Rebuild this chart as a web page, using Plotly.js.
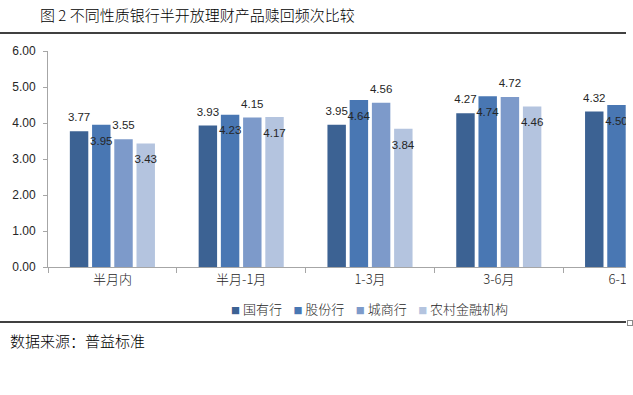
<!DOCTYPE html>
<html><head><meta charset="utf-8">
<script src="https://cdn.plot.ly/plotly-3.0.1.min.js"></script>
<style>
html,body{margin:0;padding:0;background:#fff;overflow:hidden;}
#wrap{width:626px;height:395px;overflow:hidden;position:absolute;left:0;top:0;}
#chart{width:760px;height:395px;}
#handle{position:absolute;left:627px;top:320px;width:4px;height:4px;border:1px solid #8a8a8a;background:#fff;}
</style></head><body>
<div id="wrap"><div id="chart"></div></div>
<div id="handle"></div>
<script>
const categories = ['半月内', '半月-1月', '1-3月', '3-6月', '6-12月'];
const seriesNames = ['国有行', '股份行', '城商行', '农村金融机构'];
const stateOwned = [3.77, 3.93, 3.95, 4.27, 4.32];
const jointStock = [3.95, 4.23, 4.64, 4.74, 4.50];
const cityCommercial = [3.55, 4.15, 4.56, 4.72, null];
const ruralFinancial = [3.43, 4.17, 3.84, 4.46, null];
const yTickVals = [0, 1, 2, 3, 4, 5, 6];
const yTickText = ['0.00', '1.00', '2.00', '3.00', '4.00', '5.00', '6.00'];
const titleText = '图 2 不同性质银行半开放理财产品赎回频次比较';
const sourceText = '数据来源：普益标准';

const seriesValues = [stateOwned, jointStock, cityCommercial, ruralFinancial];
const colors = ['#3C6293', '#4977B3', '#7D9ACA', '#B4C4DF'];
const labelOutside = [true, false, true, false];
const labelColor = '#262626';
const numFont = 'Liberation Sans, Arial, Noto Sans CJK SC, sans-serif';
const cjkFont = 'Noto Sans CJK SC, sans-serif';
const labelSize = 11.5;

// value label sits a little away from the bar end, as in the source chart
const outsideTemplate = '<span style="font-size:' + labelSize + 'px">%{y:.2f}</span><br>&nbsp;';
const insideTemplate = '&nbsp;<br><span style="font-size:' + labelSize + 'px">%{y:.2f}</span>';

const traces = seriesValues.map((vals, i) => {
  const out = labelOutside[i];
  const padSize = out ? 4.5 : 7.5;
  const f = {family: numFont, size: padSize, color: labelColor};
  return {
    type: 'bar',
    name: seriesNames[i],
    x: categories,
    y: vals,
    marker: {color: colors[i]},
    texttemplate: out ? outsideTemplate : insideTemplate,
    textposition: out ? 'outside' : 'inside',
    insidetextanchor: 'end',
    textangle: 0,
    constraintext: 'none',
    textfont: f, insidetextfont: f, outsidetextfont: f,
    hoverinfo: 'skip',
    showlegend: false
  };
});

const legendText = seriesNames.map((n, i) =>
  '<span style="color:' + colors[i] + ';font-size:9px">■</span>&nbsp;' + n
).join('&nbsp;&nbsp;&nbsp;&nbsp;');

const layout = {
  width: 760, height: 395,
  margin: {l: 48, r: 68, t: 51, b: 128},
  paper_bgcolor: '#ffffff', plot_bgcolor: '#ffffff',
  barmode: 'group', bargap: 0.31, bargroupgap: 0.17,
  showlegend: false,
  font: {family: numFont, color: labelColor},
  title: {
    text: titleText, xref: 'container', x: 40 / 760, xanchor: 'left',
    yref: 'container', y: 1 - 16 / 395, yanchor: 'middle',
    font: {family: cjkFont, size: 15, color: '#000000', weight: 300}
  },
  xaxis: {
    type: 'category', range: [-0.5, 4.5],
    showline: true, linecolor: '#A6A6A6', linewidth: 1,
    ticks: 'outside', tickson: 'boundaries', ticklen: 5, tickcolor: '#A6A6A6',
    tickfont: {family: cjkFont, size: 13, color: labelColor, weight: 300},
    showgrid: false, zeroline: false, fixedrange: true
  },
  yaxis: {
    range: [0, 6], tickmode: 'array', tickvals: yTickVals, ticktext: yTickText,
    showline: true, linecolor: '#A6A6A6', linewidth: 1,
    ticks: 'outside', ticklen: 4, tickcolor: '#A6A6A6',
    ticklabelstandoff: 5,
    tickfont: {family: numFont, size: 12, color: labelColor},
    showgrid: false, zeroline: false, fixedrange: true
  },
  shapes: [
    {type: 'line', xref: 'paper', yref: 'paper', x0: -0.08, x1: 1.2, y0: (267 - 33) / 216, y1: (267 - 33) / 216,
     line: {color: '#000000', width: 1.3}},
    {type: 'line', xref: 'paper', yref: 'paper', x0: -0.08, x1: 1.2, y0: (267 - 322) / 216, y1: (267 - 322) / 216,
     line: {color: '#000000', width: 1.3}}
  ],
  annotations: [
    {text: legendText, xref: 'paper', yref: 'paper', x: 0.499, y: (267 - 308) / 216,
     xanchor: 'center', yanchor: 'middle', showarrow: false,
     font: {family: cjkFont, size: 13, color: labelColor, weight: 300}},
    {text: sourceText, xref: 'paper', yref: 'paper', x: (8 - 48) / 644, y: (267 - 340) / 216,
     xanchor: 'left', yanchor: 'middle', showarrow: false,
     font: {family: cjkFont, size: 15, color: '#000000', weight: 300}}
  ]
};

Plotly.newPlot('chart', traces, layout, {displayModeBar: false, staticPlot: true});
</script>
</body></html>
